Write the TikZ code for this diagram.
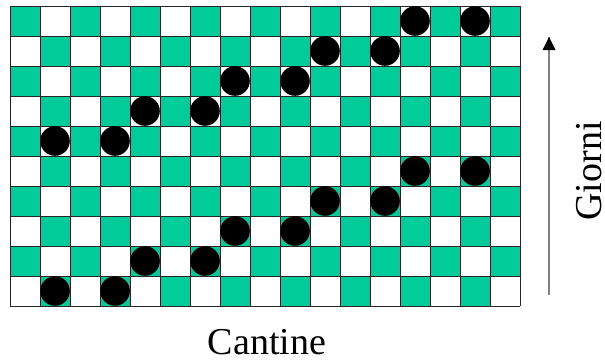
\documentclass[tikz,border=0pt]{standalone}
\usepackage{fontspec}
\setmainfont{Liberation Serif}
\usetikzlibrary{arrows.meta}
\definecolor{cellgreen}{RGB}{0,204,153}
\definecolor{axisgray}{RGB}{128,128,128}
\tikzset{
  gridline/.style={line width=0.9pt, draw=black!85},
  token/.style={fill=black},
  bigtext/.style={font=\fontsize{38}{42}\selectfont, inner sep=0pt}
}
\begin{document}
\begin{tikzpicture}[x=1pt,y=-1pt]
\useasboundingbox (0,0) rectangle (605,360);
\foreach \r in {0,...,9} {
  \foreach \c in {0,...,16} {
    \pgfmathtruncatemacro\cellpar{mod(\r+\c,2)}
    \ifnum\cellpar=0 \fill[cellgreen] (10+30*\c,6+30*\r) rectangle ++(30,30); \fi
  }
}
\foreach \c in {0,...,17} \draw[gridline] (10+30*\c,6) -- (10+30*\c,306);
\foreach \r in {0,...,10} \draw[gridline] (10,6+30*\r) -- (520,6+30*\r);
\foreach \r/\c in {0/13,0/15,1/10,1/12,2/7,2/9,3/4,3/6,4/1,4/3,
                   5/13,5/15,6/10,6/12,7/7,7/9,8/4,8/6,9/1,9/3}
  \fill[token] (25+30*\c,21+30*\r) circle (14.8);
\coordinate (abot) at (549,295);
\coordinate (atop) at (549,37);
\draw[axisgray, line width=1.5pt] (abot) -- (atop);
\fill[black] (atop) -- ++(-6.5,13) -- ++(13,0) -- cycle;
\node[bigtext, anchor=base] (cantine) at (267,354) {Cantine};
\node[bigtext, rotate=90, anchor=base] (giorni) at (601,171) {Giorni};
\end{tikzpicture}
\end{document}
